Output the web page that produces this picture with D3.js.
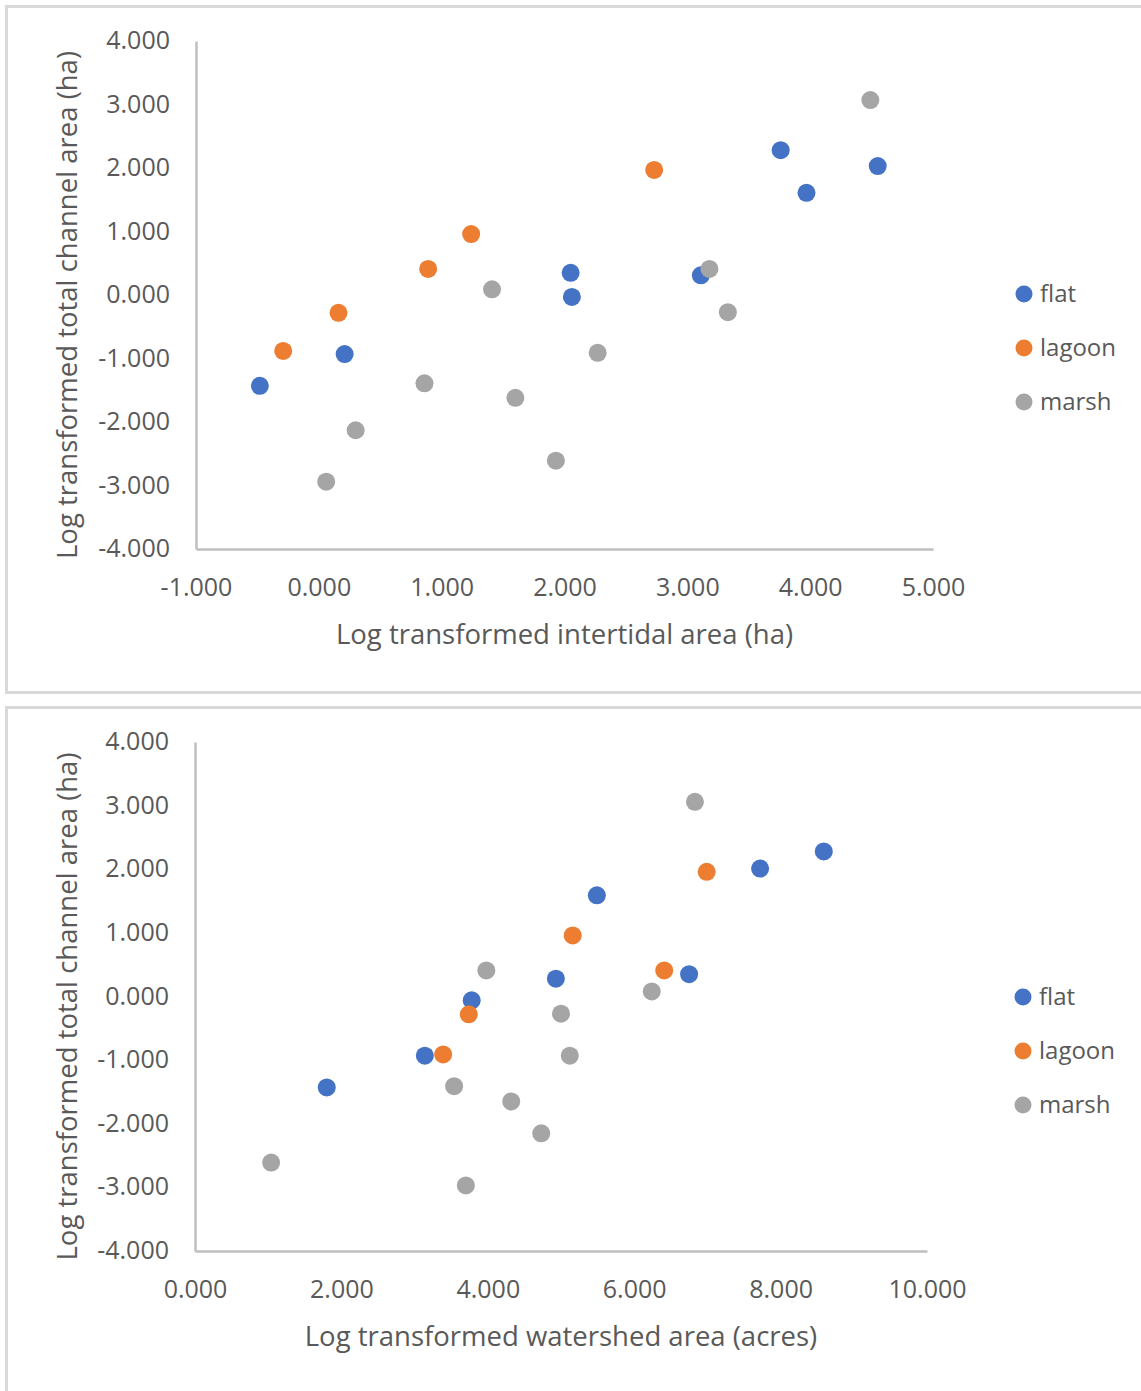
<!DOCTYPE html>
<html>
<head>
<meta charset="utf-8">
<script src="https://d3js.org/d3.v7.min.js"></script>
<style>
  body { margin: 0; background: #fff; }
  svg text { font-family: "Open Sans", sans-serif; fill: #595959; }
</style>
</head>
<body>
<svg id="chart" width="1141" height="1391"></svg>
<script>
// series names + colours
var seriesNames = ["flat", "lagoon", "marsh"];
var seriesColors = ["#4472C4", "#ED7D31", "#A5A5A5"];

// top chart: log intertidal area (x) vs log channel area (y)
var flatIntertidal = [-0.48, 0.21, 2.05, 2.06, 3.11, 3.76, 3.97, 4.55];
var flatChannel = [-1.43, -0.93, 0.35, -0.03, 0.31, 2.28, 1.61, 2.03];
var lagoonIntertidal = [-0.29, 0.16, 0.89, 1.24, 2.73];
var lagoonChannel = [-0.88, -0.28, 0.41, 0.96, 1.97];
var marshIntertidal = [0.06, 0.30, 0.86, 1.41, 1.60, 1.93, 2.27, 3.18, 3.33, 4.49];
var marshChannel = [-2.94, -2.13, -1.39, 0.09, -1.62, -2.61, -0.91, 0.41, -0.27, 3.07];

// bottom chart: log watershed area (x) vs log channel area (y)
var flatWatershed = [1.80, 3.14, 3.78, 4.93, 5.49, 6.75, 7.72, 8.59];
var flatChannel2 = [-1.43, -0.93, -0.06, 0.28, 1.59, 0.35, 2.01, 2.28];
var lagoonWatershed = [3.39, 3.74, 5.16, 6.41, 6.99];
var lagoonChannel2 = [-0.91, -0.28, 0.96, 0.41, 1.96];
var marshWatershed = [1.04, 3.54, 3.70, 3.98, 4.32, 4.73, 5.00, 5.12, 6.24, 6.83];
var marshChannel2 = [-2.61, -1.41, -2.97, 0.41, -1.65, -2.15, -0.27, -0.93, 0.08, 3.06];

// axis ticks
var yTicks = [-4, -3, -2, -1, 0, 1, 2, 3, 4];
var xTicksTop = [-1, 0, 1, 2, 3, 4, 5];
var xTicksBottom = [0, 2, 4, 6, 8, 10];

function zip(xs, ys) {
    return xs.map(function(x, i) { return { x: x, y: ys[i] }; });
}

var svg = d3.select("#chart");
// plain hyphen minus like Excel
var fmt = function(d) { return d.toFixed(3); };

function drawPanel(cfg) {
    // panel frame
    svg.append("rect")
        .attr("x", 6.5).attr("y", cfg.top + 0.5)
        .attr("width", 1150).attr("height", cfg.height)
        .attr("fill", "#fff")
        .attr("stroke", "#d9d9d9")
        .attr("stroke-width", 3);

    var xScale = d3.scaleLinear().domain(cfg.xDomain).range([cfg.left, cfg.right]);
    var yScale = d3.scaleLinear().domain([-4, 4]).range([cfg.bottom, cfg.plotTop]);

    var g = svg.append("g");

    // axes, no tick marks
    var xAxis = d3.axisBottom(xScale).tickValues(cfg.xTicks).tickFormat(fmt).tickSize(0).tickPadding(29);
    var yAxis = d3.axisLeft(yScale).tickValues(yTicks).tickFormat(fmt).tickSize(0).tickPadding(26);

    var gx = g.append("g")
        .attr("transform", "translate(0," + yScale(-4) + ")")
        .call(xAxis);
    gx.select(".domain").attr("stroke", "#bfbfbf").attr("stroke-width", 2.5);
    gx.selectAll("text").style("font-size", "25px").attr("fill", "#595959");

    var gy = g.append("g")
        .attr("transform", "translate(" + xScale(cfg.xDomain[0]) + ",0)")
        .call(yAxis);
    gy.select(".domain").attr("stroke", "#bfbfbf").attr("stroke-width", 2.5);
    gy.selectAll("text").style("font-size", "25px").attr("fill", "#595959")
        .attr("dy", "0.3em");

    // axis titles
    g.append("text")
        .attr("x", (cfg.left + cfg.right) / 2)
        .attr("y", cfg.bottom + 95)
        .attr("text-anchor", "middle")
        .style("font-size", "27.5px")
        .text(cfg.xTitle);

    g.append("text")
        .attr("transform", "translate(" + 77 + "," + ((cfg.bottom + cfg.plotTop) / 2 + 10) + ") rotate(-90)")
        .attr("text-anchor", "middle")
        .style("font-size", "27.5px")
        .text(cfg.yTitle);

    // points
    cfg.series.forEach(function(pts, i) {
        g.selectAll(".dot-" + i)
            .data(pts)
            .enter().append("circle")
            .attr("class", "dot-" + i)
            .attr("cx", function(d) { return xScale(d.x); })
            .attr("cy", function(d) { return yScale(d.y); })
            .attr("r", 9)
            .attr("fill", seriesColors[i]);
    });

    // legend
    var legend = g.selectAll(".legend")
        .data(seriesNames)
        .enter().append("g")
        .attr("transform", function(d, i) {
            return "translate(" + cfg.legendX + "," + (cfg.legendY + i * 54) + ")";
        });
    legend.append("circle").attr("r", 8.5).attr("fill", function(d, i) { return seriesColors[i]; });
    legend.append("text")
        .attr("x", 16).attr("dy", "0.35em")
        .style("font-size", "24px")
        .text(function(d) { return d; });
}

drawPanel({
    top: 6, height: 686,
    left: 196, right: 933, plotTop: 41, bottom: 549,
    xDomain: [-1, 5], xTicks: xTicksTop,
    xTitle: "Log transformed intertidal area (ha)",
    yTitle: "Log transformed total channel area (ha)",
    series: [zip(flatIntertidal, flatChannel), zip(lagoonIntertidal, lagoonChannel), zip(marshIntertidal, marshChannel)],
    legendX: 1024, legendY: 294
});

drawPanel({
    top: 707, height: 700,
    left: 195, right: 927, plotTop: 742, bottom: 1251,
    xDomain: [0, 10], xTicks: xTicksBottom,
    xTitle: "Log transformed watershed area (acres)",
    yTitle: "Log transformed total channel area (ha)",
    series: [zip(flatWatershed, flatChannel2), zip(lagoonWatershed, lagoonChannel2), zip(marshWatershed, marshChannel2)],
    legendX: 1023, legendY: 997
});
</script>
</body>
</html>
